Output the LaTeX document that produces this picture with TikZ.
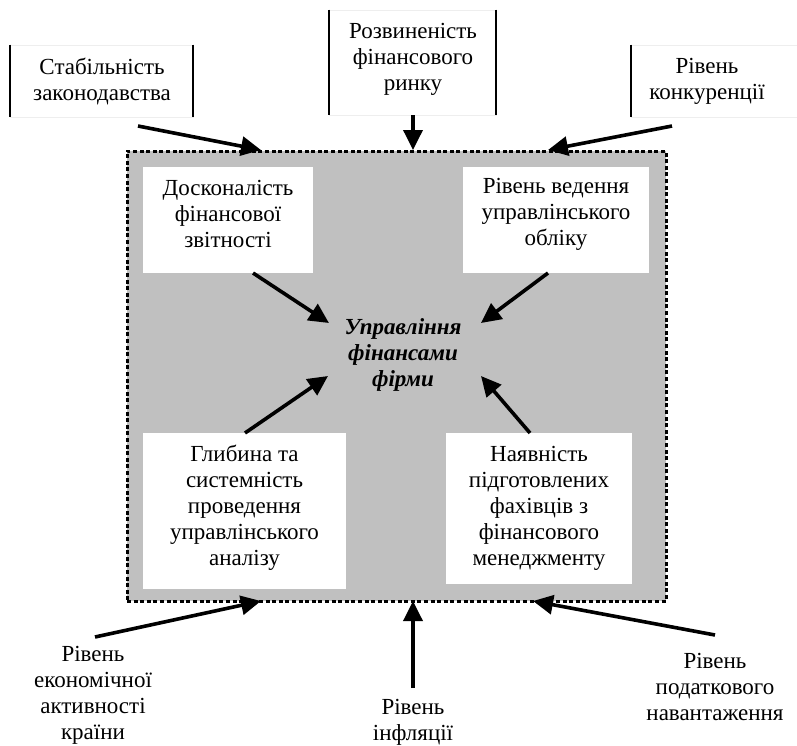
\documentclass[tikz,border=0pt]{standalone}
\usepackage{fontspec}
\setmainfont{Liberation Serif}
\newfontfamily\timesface{Liberation Serif}
\usetikzlibrary{arrows.meta}
\definecolor{panel}{HTML}{C0C0C0}
\definecolor{faint}{HTML}{EEEEEE}
\tikzset{
  lbl/.style={align=center, font=\timesface\fontsize{23}{26}\selectfont, inner sep=0pt},
  core/.style={align=center, font=\timesface\fontsize{23}{26}\selectfont\bfseries\itshape, inner sep=0pt},
  card/.style={fill=white, draw=none, inner sep=0pt},
  factorbox/.style={draw=faint, line width=0.8pt, inner sep=0pt},
  sideline/.style={line width=2pt},
  push/.style={line width=3.6pt, -{Triangle[length=20pt,width=19pt]}},
  frame/.style={fill=panel, draw=black, line width=3pt, dash pattern=on 4pt off 2.6pt}
}
\begin{document}
\begin{tikzpicture}[x=1pt,y=-1pt]
\path[use as bounding box] (0,0) rectangle (797,745);

% central area
\node[frame, minimum width=539pt, minimum height=450pt] (frame) at (396.5,376) {};

% external factors at the top
\node[factorbox, minimum width=183pt, minimum height=72pt] (t1) at (101.5,81) {};
\draw[sideline] (t1.north west) -- (t1.south west) (t1.north east) -- (t1.south east);
\node[lbl] (t1t) at (102,81) {Стабільність\\законодавства};

\node[factorbox, minimum width=167pt, minimum height=105pt] (t2) at (412.5,62.5) {};
\draw[sideline] (t2.north west) -- (t2.south west) (t2.north east) -- (t2.south east);
\node[lbl] (t2t) at (413,59) {Розвиненість\\фінансового\\ринку};

\node[factorbox, minimum width=166pt, minimum height=72pt] (t3) at (714,81) {};
\draw[sideline] (t3.north west) -- (t3.south west);
\node[lbl] (t3t) at (707,81) {Рівень\\конкуренції};

% internal factors
\node[card, minimum width=170pt, minimum height=106pt] (q1) at (228,220) {};
\node[lbl] (q1t) at (228,214) {Досконалість\\фінансової\\звітності};

\node[card, minimum width=186pt, minimum height=106pt] (q2) at (556,220) {};
\node[lbl] (q2t) at (556,214.5) {Рівень ведення\\управлінського\\обліку};

\node[card, minimum width=203pt, minimum height=156pt] (q3) at (244.5,511) {};
\node[lbl] (q3t) at (244.5,507.5) {Глибина та\\системність\\проведення\\управлінського\\аналізу};

\node[card, minimum width=186pt, minimum height=151pt] (q4) at (539,508.5) {};
\node[lbl] (q4t) at (539,508) {Наявність\\підготовлених\\фахівців з\\фінансового\\менеджменту};

\node[core] (core) at (403,355) {Управління\\фінансами\\фірми};

% external factors at the bottom
\node[lbl] (b1) at (93,695) {Рівень\\економічної\\активності\\країни};
\node[lbl] (b2) at (413,722) {Рівень\\інфляції};
\node[lbl] (b3) at (715,687) {Рівень\\податкового\\навантаження};

% arrow ends
\coordinate (a1s) at (138,126);  \coordinate (a1e) at (261,150);
\coordinate (a2s) at (413,115);  \coordinate (a2e) at (413,150);
\coordinate (a3s) at (672,126);  \coordinate (a3e) at (548,150);
\coordinate (i1s) at (253,273);  \coordinate (i1e) at (329,323);
\coordinate (i2s) at (548,273);  \coordinate (i2e) at (481,323);
\coordinate (i3s) at (245,433);  \coordinate (i3e) at (328,376);
\coordinate (i4s) at (530,433);  \coordinate (i4e) at (481,376);
\coordinate (c1s) at (95,637);   \coordinate (c1e) at (261,601);
\coordinate (c2s) at (413,688);  \coordinate (c2e) at (413,601);
\coordinate (c3s) at (715,635);  \coordinate (c3e) at (533,601);

\draw[push] (a1s) -- (a1e);
\draw[push] (a2s) -- (a2e);
\draw[push] (a3s) -- (a3e);
\draw[push] (i1s) -- (i1e);
\draw[push] (i2s) -- (i2e);
\draw[push] (i3s) -- (i3e);
\draw[push] (i4s) -- (i4e);
\draw[push] (c1s) -- (c1e);
\draw[push] (c2s) -- (c2e);
\draw[push] (c3s) -- (c3e);
\end{tikzpicture}
\end{document}
